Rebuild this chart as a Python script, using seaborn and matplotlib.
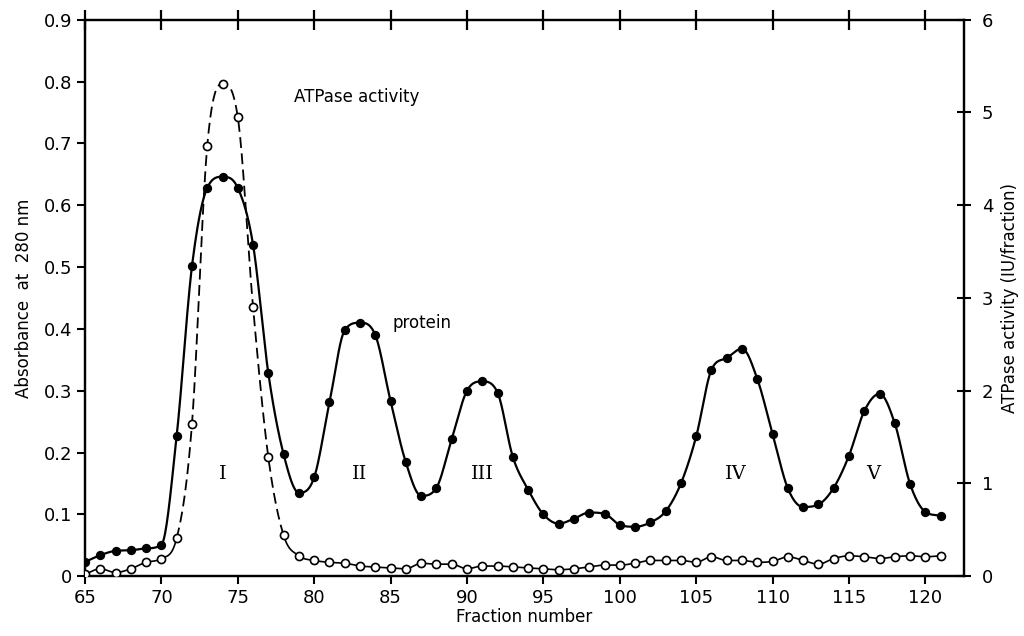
import matplotlib
matplotlib.use('Agg')
import matplotlib.pyplot as plt
import numpy as np
import pandas as pd
import seaborn as sns

fractions = list(range(65, 122))

protein = [0.023, 0.034, 0.041, 0.042, 0.045, 0.051, 0.227, 0.501, 0.628, 0.646,
           0.628, 0.536, 0.328, 0.197, 0.135, 0.160, 0.281, 0.398, 0.410, 0.390,
           0.283, 0.184, 0.130, 0.143, 0.222, 0.300, 0.315, 0.297, 0.193, 0.140,
           0.100, 0.085, 0.093, 0.103, 0.101, 0.083, 0.080, 0.087, 0.105, 0.150,
           0.226, 0.334, 0.353, 0.368, 0.319, 0.230, 0.142, 0.112, 0.116, 0.143,
           0.195, 0.267, 0.295, 0.247, 0.149, 0.104, 0.098]

atpase = [0.02, 0.08, 0.04, 0.08, 0.15, 0.19, 0.41, 1.64, 4.64, 5.31,
          4.95, 2.90, 1.28, 0.44, 0.22, 0.17, 0.15, 0.14, 0.11, 0.10,
          0.09, 0.08, 0.14, 0.13, 0.13, 0.08, 0.11, 0.11, 0.10, 0.09,
          0.08, 0.07, 0.08, 0.10, 0.12, 0.12, 0.14, 0.17, 0.17, 0.17,
          0.15, 0.21, 0.17, 0.17, 0.15, 0.16, 0.21, 0.17, 0.13, 0.19,
          0.22, 0.21, 0.19, 0.21, 0.22, 0.21, 0.22]

peak_labels = ['I', 'II', 'III', 'IV', 'V']
peak_positions = [74, 83, 91, 107.6, 116.6]

x_ticks = list(range(65, 121, 5))
left_ticks = [0, 0.1, 0.2, 0.3, 0.4, 0.5, 0.6, 0.7, 0.8, 0.9]
left_tick_labels = ['0', '0.1', '0.2', '0.3', '0.4', '0.5', '0.6', '0.7', '0.8', '0.9']
right_ticks = [0, 1, 2, 3, 4, 5, 6]


def smooth(x, y, n=20):
    # monotone cubic curve through the points, like a drawn French curve
    x = np.asarray(x, float)
    y = np.asarray(y, float)
    h = np.diff(x)
    d = np.diff(y) / h
    m = np.zeros_like(y)
    m[0], m[-1] = d[0], d[-1]
    for k in range(1, len(y) - 1):
        if d[k - 1] * d[k] > 0:
            m[k] = (d[k - 1] + d[k]) / 2
    for k in range(len(d)):
        if d[k] == 0:
            m[k] = m[k + 1] = 0
            continue
        a, b = m[k] / d[k], m[k + 1] / d[k]
        s = a * a + b * b
        if s > 9:
            tau = 3 / np.sqrt(s)
            m[k], m[k + 1] = tau * a * d[k], tau * b * d[k]
    t = np.linspace(0, 1, n, endpoint=False)
    h00 = 2 * t**3 - 3 * t**2 + 1
    h10 = t**3 - 2 * t**2 + t
    h01 = -2 * t**3 + 3 * t**2
    h11 = t**3 - t**2
    xs, ys = [], []
    for i in range(len(x) - 1):
        xs.append(x[i] + t * h[i])
        ys.append(h00 * y[i] + h10 * h[i] * m[i] + h01 * y[i + 1] + h11 * h[i] * m[i + 1])
    xs.append([x[-1]])
    ys.append([y[-1]])
    return np.concatenate(xs), np.concatenate(ys)


def main():
    sns.set_style('ticks')
    plt.rcParams['font.family'] = ['DejaVu Sans']
    plt.rcParams.update({'text.color': 'black', 'axes.labelcolor': 'black',
                         'xtick.color': 'black', 'ytick.color': 'black'})

    df = pd.DataFrame({'fraction': fractions, 'protein': protein, 'atpase': atpase})

    fig, ax = plt.subplots(figsize=(10.24, 6.36), dpi=100)
    fig.subplots_adjust(left=0.083, right=0.941, top=0.969, bottom=0.094)
    ax2 = ax.twinx()

    # protein curve (left axis)
    px, py = smooth(df['fraction'], df['protein'])
    ax.plot(px, py, color='black', lw=1.6, zorder=2)
    sns.scatterplot(data=df, x='fraction', y='protein', ax=ax, color='black',
                    s=45, edgecolor='black', linewidth=0, zorder=3, legend=False)

    # ATPase curve (right axis), dashed across the activity peak
    axs, ays = smooth(df['fraction'], df['atpase'])
    solid_a = axs <= 71
    dash = (axs >= 71) & (axs <= 78)
    solid_b = axs >= 78
    ax2.plot(axs[solid_a], ays[solid_a], color='black', lw=1.2, zorder=2)
    ax2.plot(axs[dash], ays[dash], color='black', lw=1.3, ls=(0, (6, 3)), zorder=2)
    ax2.plot(axs[solid_b], ays[solid_b], color='black', lw=1.2, zorder=2)
    sns.scatterplot(data=df, x='fraction', y='atpase', ax=ax2, color='white',
                    s=34, edgecolor='black', linewidth=1.2, zorder=3, legend=False)

    ax.set_xlim(65, 122.5)
    ax.set_ylim(0, 0.9)
    ax2.set_ylim(0, 6)

    ax.set_xticks(x_ticks)
    ax.set_xticklabels([str(v) for v in x_ticks], fontsize=13)
    ax.set_yticks(left_ticks)
    ax.set_yticklabels(left_tick_labels, fontsize=13)
    ax2.set_yticks(right_ticks)
    ax2.set_yticklabels([str(v) for v in right_ticks], fontsize=13)

    ax.tick_params(axis='x', direction='out', length=6, width=1.5, pad=3)
    ax.tick_params(axis='y', direction='out', length=6, width=1.5, pad=3)
    ax2.tick_params(axis='y', direction='inout', length=10, width=1.5, pad=8)

    for a in (ax, ax2):
        for side in ('left', 'right', 'top', 'bottom'):
            a.spines[side].set_visible(True)
            a.spines[side].set_linewidth(1.6)
            a.spines[side].set_color('black')

    ax.set_xlabel('Fraction number', fontsize=12, labelpad=1)
    ax.set_ylabel('Absorbance  at  280 nm', fontsize=12, labelpad=8)
    ax2.set_ylabel('ATPase activity (IU/fraction)', fontsize=12, labelpad=6)

    ax.text(78.7, 0.775, 'ATPase activity', fontsize=12, ha='left', va='center')
    ax.text(85.1, 0.41, 'protein', fontsize=12, ha='left', va='center')
    for label, pos in zip(peak_labels, peak_positions):
        ax.text(pos, 0.166, label, fontsize=14, ha='center', va='center',
                family='DejaVu Serif')

    # short ticks along the top edge, on a bare overlay axes
    top = fig.add_axes(ax.get_position(), frameon=False, zorder=5)
    top.set_xlim(ax.get_xlim())
    top.set_xticks(x_ticks)
    top.set_yticks([])
    top.tick_params(axis='x', top=True, bottom=False, labeltop=False,
                    labelbottom=False, direction='inout', length=14, width=1.6,
                    color='black')

    fig.savefig('out.png', dpi=100)


if __name__ == '__main__':
    main()
